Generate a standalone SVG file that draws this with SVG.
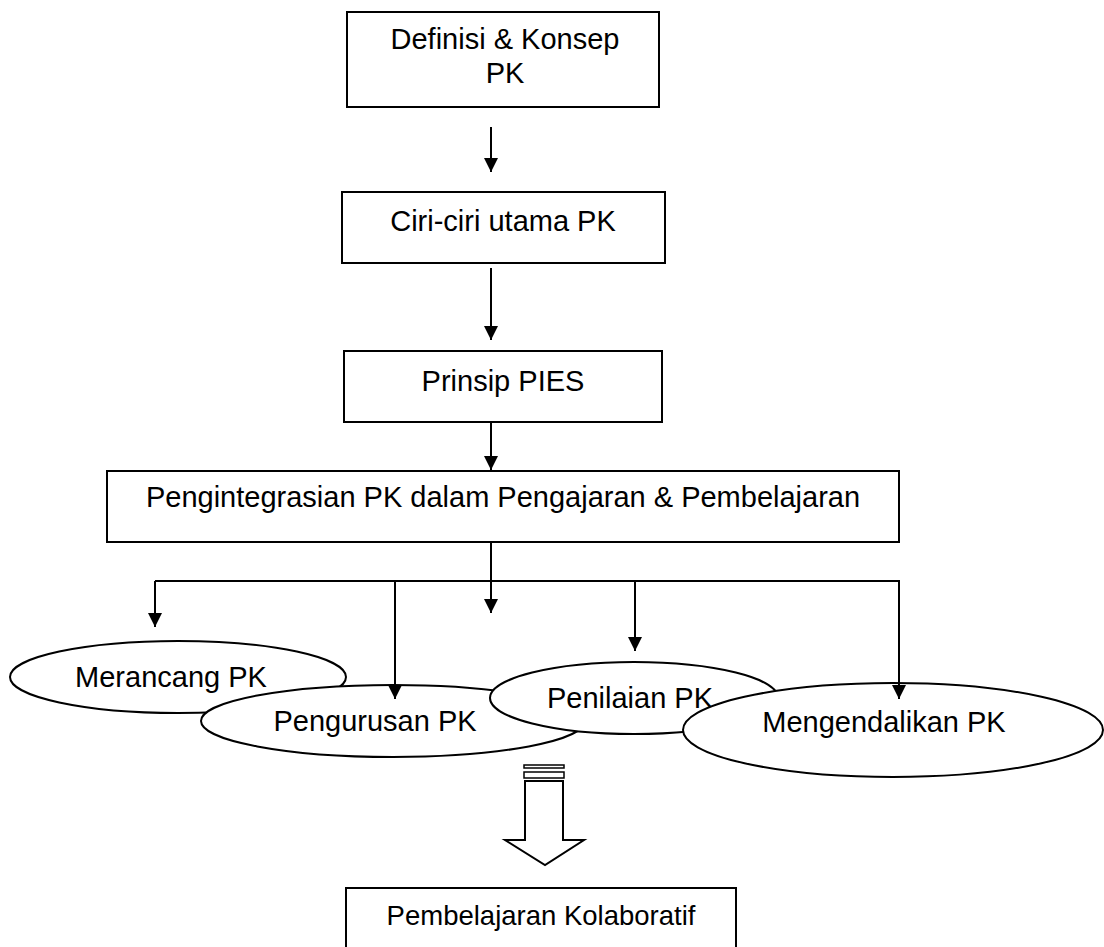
<svg xmlns="http://www.w3.org/2000/svg" width="1104" height="947" viewBox="0 0 1104 947">
<style>
.box{fill:#fff;stroke:#000;stroke-width:2}
.ell{fill:#fff;stroke:#000;stroke-width:2}
.t{font-family:"Liberation Sans",Arial,sans-serif;font-size:29px;fill:#000;text-anchor:middle}
.c{fill:none;stroke:#000;stroke-width:2}
</style>
<defs>
<marker id="ah" markerUnits="userSpaceOnUse" markerWidth="14" markerHeight="14" refX="14" refY="7" orient="auto">
<path d="M0,0 L14,7 L0,14 z" fill="#000"/>
</marker>
</defs>
<rect width="1104" height="947" fill="#fff"/>
<g id="n1"><rect class="box" x="347" y="12" width="312" height="95"/><text class="t" x="505" y="49">Definisi &amp; Konsep</text><text class="t" x="505" y="83">PK</text></g>
<g id="n2"><rect class="box" x="342" y="192" width="323" height="71"/><text class="t" x="503" y="231">Ciri-ciri utama PK</text></g>
<g id="n3"><rect class="box" x="344" y="351" width="318" height="71"/><text class="t" x="503" y="391">Prinsip PIES</text></g>
<g id="n4"><rect class="box" x="107" y="471" width="792" height="71"/><text class="t" x="503" y="507">Pengintegrasian PK dalam Pengajaran &amp; Pembelajaran</text></g>
<g id="e1"><ellipse class="ell" cx="178" cy="677" rx="168" ry="36"/><text class="t" x="171" y="687">Merancang PK</text></g>
<g id="e2"><ellipse class="ell" cx="393" cy="721" rx="192" ry="36"/><text class="t" x="375" y="731">Pengurusan PK</text></g>
<g id="e3"><ellipse class="ell" cx="634" cy="698" rx="144" ry="36"/><text class="t" x="630" y="708">Penilaian PK</text></g>
<g id="e4"><ellipse class="ell" cx="893" cy="730" rx="210" ry="47"/><text class="t" x="884" y="732">Mengendalikan PK</text></g>
<g id="blockarrow">
<rect x="524" y="765" width="40" height="3" fill="#fff" stroke="#000" stroke-width="1.5"/>
<rect x="524" y="772" width="40" height="6" fill="#fff" stroke="#000" stroke-width="1.5"/>
<path d="M525,781 L563,781 L563,840 L584,840 L545,865 L505,840 L525,840 z" fill="#fff" stroke="#000" stroke-width="2"/>
</g>
<g id="n5"><rect class="box" x="346" y="888" width="390" height="80"/><text class="t" x="541" y="925" style="font-size:27.5px">Pembelajaran Kolaboratif</text></g>
<g id="connectors">
<line class="c" x1="491" y1="127" x2="491" y2="172" marker-end="url(#ah)"/>
<line class="c" x1="491" y1="268" x2="491" y2="340" marker-end="url(#ah)"/>
<line class="c" x1="491" y1="422" x2="491" y2="470" marker-end="url(#ah)"/>
<line class="c" x1="491" y1="542" x2="491" y2="613" marker-end="url(#ah)"/>
<polyline class="c" points="155,581 899,581 899,699" marker-end="url(#ah)"/>
<line class="c" x1="155" y1="581" x2="155" y2="627" marker-end="url(#ah)"/>
<line class="c" x1="395" y1="581" x2="395" y2="699" marker-end="url(#ah)"/>
<line class="c" x1="635" y1="581" x2="635" y2="651" marker-end="url(#ah)"/>
</g>
</svg>
